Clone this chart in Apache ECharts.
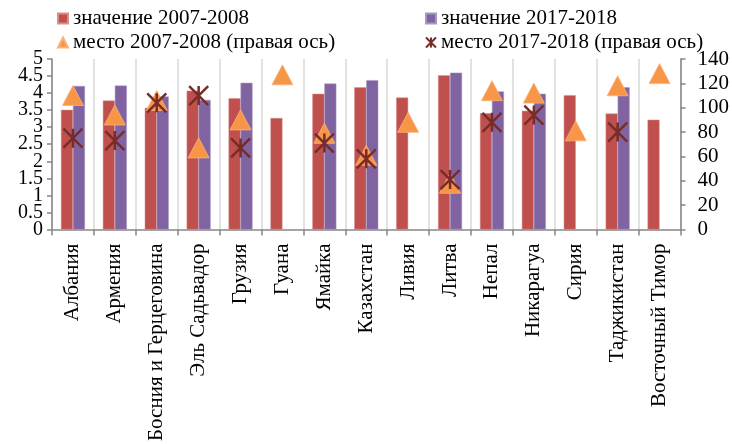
<!DOCTYPE html>
<html>
<head>
<meta charset="utf-8">
<script src="https://cdn.jsdelivr.net/npm/echarts@6/dist/echarts.min.js"></script>
<style>
html,body{margin:0;padding:0;background:#fff;}
#chart{width:732px;height:444px;}
</style>
</head>
<body>
<div id="chart"></div>
<script>
var categories = ['Албания','Армения','Босния и Герцеговина','Эль Садьвадор','Грузия','Гуана','Ямайка','Казахстан','Ливия','Литва','Непал','Никарагуа','Сирия','Таджикистан','Восточный Тимор'];
var value2007 = [3.51, 3.78, 3.57, 4.07, 3.85, 3.27, 3.98, 4.17, 3.87, 4.52, 3.41, 3.48, 3.94, 3.40, 3.22];
var value2017 = [4.21, 4.22, 3.90, 3.80, 4.30, null, 4.28, 4.38, null, 4.60, 4.05, 3.98, null, 4.17, null];
var rank2007 = [110, 94, 106, 67, 90, 127, 79, 61, 88, 38, 114, 112, 81, 118, 128];
var rank2017 = [75, 73, 104, 110, 67, null, 71, 58, null, 41, 88, 94, null, 80, null];
var leftTicks = {min: 0, max: 5, interval: 0.5};
var rightTicks = {min: 0, max: 140, interval: 20};

var FONT = "'Liberation Serif','Times New Roman',serif";
var STAR = 'path://M0,0L20,20M20,0L0,20M10,0L10,20';
var chart = echarts.init(document.getElementById('chart'));
var axisGrey = '#868686';
var legendText = {fontFamily: FONT, fontSize: 21, color: '#000', lineHeight: 20};
var leftLabel = {fontFamily: FONT, fontSize: 20, color: '#000', margin: 9, lineHeight: 12};
chart.setOption({
  animation: false,
  textStyle: {fontFamily: FONT},
  grid: {left: 52, right: 50, top: 59, bottom: 211, containLabel: false},
  legend: [
    {left: 57, top: 8, padding: 0, orient: 'vertical', itemGap: 3, itemWidth: 10, itemHeight: 10,
     textStyle: legendText,
     data: [{name: 'значение 2007-2008', icon: 'rect'}, {name: 'место 2007-2008 (правая ось)', icon: 'triangle'}]},
    {left: 425, top: 8, padding: 0, orient: 'vertical', itemGap: 3, itemWidth: 10, itemHeight: 10,
     textStyle: legendText,
     data: [{name: 'значение 2017-2018', icon: 'rect'}, {name: 'место 2017-2018 (правая ось)', icon: STAR}]}
  ],
  xAxis: {
    type: 'category', data: categories, boundaryGap: true,
    axisLine: {lineStyle: {color: axisGrey, width: 1.5}},
    axisTick: {show: true, length: 6, lineStyle: {color: axisGrey, width: 1.5}},
    splitLine: {show: true, lineStyle: {color: '#D9D9D9', width: 1.5}},
    axisLabel: {rotate: 90, interval: 0, fontFamily: FONT, fontSize: 21, color: '#000', margin: 14}
  },
  yAxis: [
    {type: 'value', min: leftTicks.min, max: leftTicks.max, interval: leftTicks.interval, position: 'left',
     axisLine: {show: true, lineStyle: {color: axisGrey, width: 1.5}},
     axisTick: {show: false},
     splitLine: {show: false},
     axisLabel: Object.assign({showMinLabel: false, showMaxLabel: false}, leftLabel)},
    {type: 'value', min: rightTicks.min, max: rightTicks.max, interval: rightTicks.interval, position: 'right',
     axisLine: {show: true, lineStyle: {color: axisGrey, width: 1.5}},
     axisTick: {show: true, length: 5, lineStyle: {color: axisGrey, width: 1.5}},
     splitLine: {show: false},
     axisLabel: {fontFamily: FONT, fontSize: 21, color: '#000', margin: 17,
                 showMinLabel: true, showMaxLabel: true}},
    {type: 'value', min: leftTicks.min, max: leftTicks.max, interval: leftTicks.interval, position: 'left',
     axisLine: {show: false},
     axisTick: {show: false},
     splitLine: {show: false},
     axisLabel: Object.assign({showMinLabel: true, showMaxLabel: true,
       formatter: function (v) { return (v === leftTicks.min || v === leftTicks.max) ? String(v) : ''; }}, leftLabel)},
    {type: 'value', min: leftTicks.min, max: leftTicks.max, interval: leftTicks.interval, position: 'left',
     axisLine: {show: false},
     axisTick: {show: true, length: 5, lineStyle: {color: axisGrey, width: 1.5}},
     splitLine: {show: false},
     axisLabel: {show: false}}
  ],
  series: [
    {name: 'значение 2007-2008', type: 'bar', data: value2007, barWidth: 12, barGap: '0%', yAxisIndex: 0,
     itemStyle: {color: '#C0504D', borderColor: '#D98E8C', borderWidth: 0.5}},
    {name: 'значение 2017-2018', type: 'bar', data: value2017, barWidth: 12, barGap: '0%', yAxisIndex: 0,
     itemStyle: {color: '#8064A2', borderColor: '#A896C0', borderWidth: 0.5}},
    {name: 'место 2007-2008 (правая ось)', type: 'scatter', data: rank2007, yAxisIndex: 1,
     symbol: 'triangle', symbolSize: [21, 20], z: 3,
     itemStyle: {color: '#F79646', borderColor: '#FAB27A', borderWidth: 0.8, opacity: 1}},
    {name: 'место 2017-2018 (правая ось)', type: 'scatter', data: rank2017, yAxisIndex: 1,
     symbol: STAR, symbolSize: [19, 19], z: 4,
     itemStyle: {color: 'rgba(0,0,0,0)', borderColor: '#772C2A', borderWidth: 2.5, opacity: 1}}
  ]
});
</script>
</body>
</html>
